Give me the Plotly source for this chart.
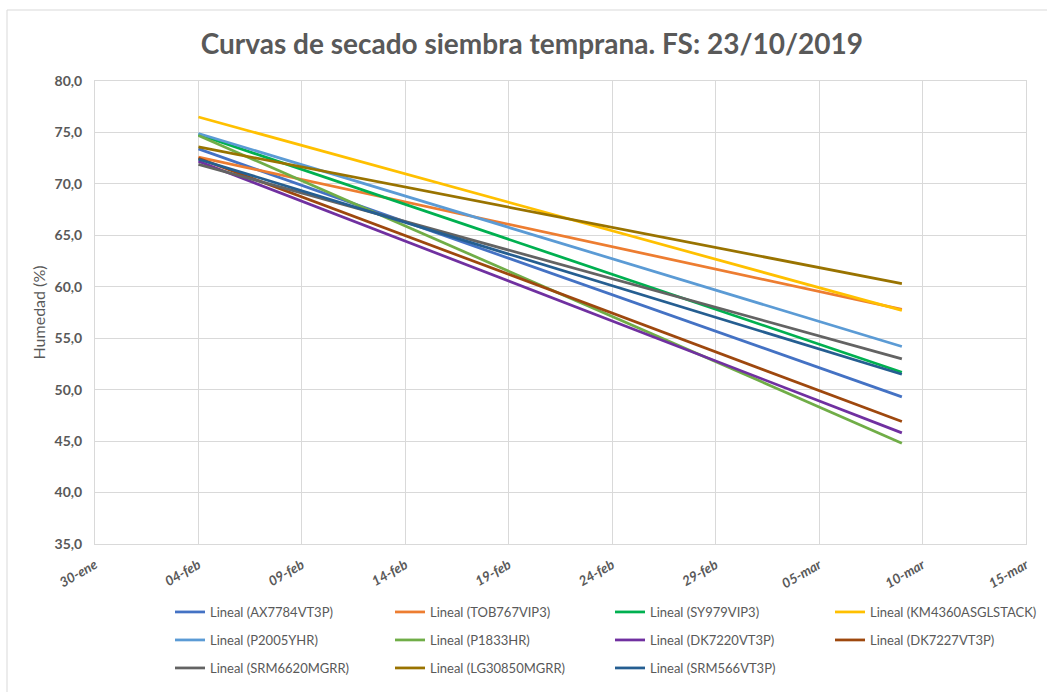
import plotly.graph_objects as go

# ---- data ----
hybrids = ["AX7784VT3P", "TOB767VIP3", "SY979VIP3", "KM4360ASGLSTACK",
           "P2005YHR", "P1833HR", "DK7220VT3P", "DK7227VT3P",
           "SRM6620MGRR", "LG30850MGRR", "SRM566VT3P"]
start_date = "2020-02-04"
end_date = "2020-03-09"
start_values = [73.4, 72.6, 74.8, 76.5, 74.9, 74.7, 72.2, 72.5, 71.9, 73.6, 72.4]
end_values = [49.3, 57.8, 51.7, 57.7, 54.2, 44.8, 45.8, 46.9, 53.0, 60.3, 51.5]
colors = ["#4472C4", "#ED7D31", "#00B050", "#FFC000",
          "#5B9BD5", "#70AD47", "#7030A0", "#9E480E",
          "#636363", "#997300", "#255E91"]
tick_dates = ["2020-01-30", "2020-02-04", "2020-02-09", "2020-02-14", "2020-02-19",
              "2020-02-24", "2020-02-29", "2020-03-05", "2020-03-10", "2020-03-15"]
tick_labels = ["30-ene", "04-feb", "09-feb", "14-feb", "19-feb",
               "24-feb", "29-feb", "05-mar", "10-mar", "15-mar"]

FONT = "Lato"
GRAY = "#595959"
GRID = "#D9D9D9"

W, H = 1047, 692
L, R, T, B = 95, 21, 81, 148
pw, ph = W - L - R, H - T - B

def px_x(p):
    return (p - L) / pw

def px_y(p):
    return (H - B - p) / ph

fig = go.Figure()
legend_names = ["legend", "legend", "legend", "legend",
                "legend2", "legend2", "legend2", "legend2",
                "legend3", "legend3", "legend3"]
for i, name in enumerate(hybrids):
    fig.add_trace(go.Scatter(
        x=[start_date, end_date],
        y=[start_values[i], end_values[i]],
        mode="lines",
        name=f"Lineal ({name})",
        line=dict(color=colors[i], width=2.75),
        legend=legend_names[i],
    ))

legend_common = dict(
    orientation="h",
    xanchor="left",
    yanchor="middle",
    x=px_x(170),
    font=dict(family=FONT, size=13, color=GRAY),
    entrywidth=175,
    entrywidthmode="pixels",
    bgcolor="rgba(0,0,0,0)",
    itemclick=False,
)

fig.update_layout(
    width=W, height=H,
    margin=dict(l=L, r=R, t=T, b=B, autoexpand=False),
    paper_bgcolor="white",
    plot_bgcolor="white",
    separators=",.",
    font=dict(family=FONT, color=GRAY),
    title=dict(
        text="Curvas de secado siembra temprana. FS: 23/10/2019",
        font=dict(family=FONT, size=28, color=GRAY, weight="bold"),
        x=0.508, xref="container", xanchor="center",
        y=1 - 44 / H, yref="container", yanchor="middle",
    ),
    xaxis=dict(
        type="date",
        range=[tick_dates[0], tick_dates[-1]],
        tickvals=tick_dates,
        ticktext=tick_labels,
        tickangle=-30,
        tickfont=dict(family=FONT, size=13.5, color=GRAY, weight="bold", style="italic"),
        ticklabelstandoff=7,
        showgrid=True, gridcolor=GRID, gridwidth=1,
        showline=True, linecolor=GRID, linewidth=1, mirror=True,
        ticks="", zeroline=False,
    ),
    yaxis=dict(
        range=[35, 80],
        dtick=5, tick0=35,
        tickformat=".1f",
        tickfont=dict(family=FONT, size=14, color=GRAY, weight="bold"),
        ticklabelstandoff=9,
        showgrid=True, gridcolor=GRID, gridwidth=1,
        showline=True, linecolor=GRID, linewidth=1, mirror=True,
        ticks="", zeroline=False,
        title=dict(text="Humedad (%)", font=dict(family=FONT, size=16, color=GRAY), standoff=4),
    ),
    legend=dict(legend_common, y=px_y(612)),
    legend2=dict(legend_common, y=px_y(640)),
    legend3=dict(legend_common, y=px_y(668)),
    showlegend=True,
    shapes=[dict(
        type="rect", xref="paper", yref="paper",
        x0=px_x(7), x1=px_x(1070), y0=px_y(720), y1=px_y(10),
        line=dict(color=GRID, width=1), fillcolor="rgba(0,0,0,0)", layer="below",
    )],
)

fig.write_html("out.html", config={"displayModeBar": False},
               post_script="document.body.style.margin='0';")
